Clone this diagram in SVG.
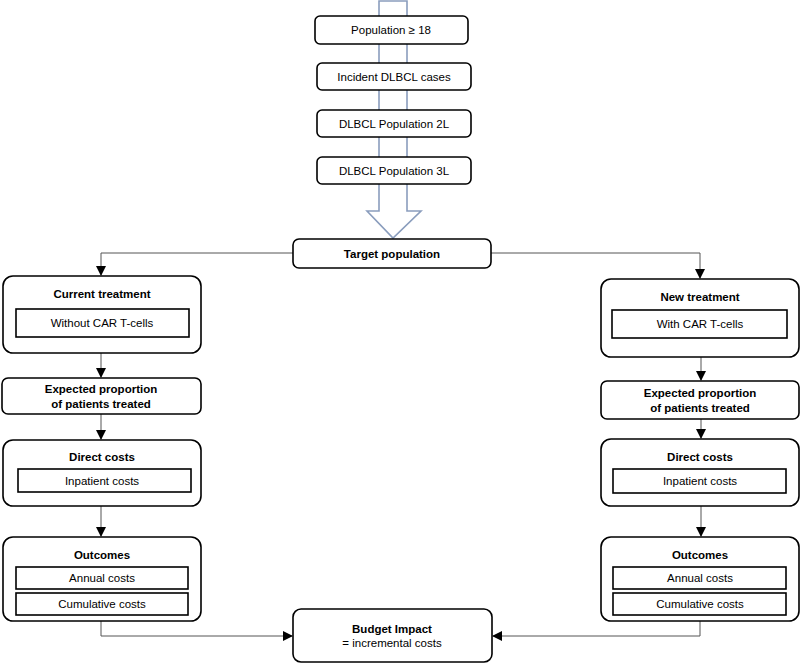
<svg xmlns="http://www.w3.org/2000/svg" width="800" height="664" viewBox="0 0 800 664">
<style>
.box{fill:#fff;stroke:#000;stroke-width:1.6}
.inner{fill:#fff;stroke:#000;stroke-width:1.6}
.t{font-family:"Liberation Sans",Arial,sans-serif;font-size:11.5px;fill:#000;text-anchor:middle}
.b{font-weight:bold}
.c{fill:none;stroke:#555;stroke-width:1}
</style>
<defs>
<marker id="ah" markerWidth="10" markerHeight="10" refX="9" refY="5" orient="auto" markerUnits="userSpaceOnUse">
<path d="M0,0 L10,5 L0,10 Z" fill="#000"/>
</marker>
</defs>
<rect width="800" height="664" fill="#fff"/>
<g id="bigarrow">
<path d="M379,1 L379,211 L367,211 L393,238 L421,211 L407,211 L407,1 Z" fill="#fff" stroke="#8a9dbd" stroke-width="1.6" stroke-linejoin="miter"/>
</g>
<g id="connectors">
<path class="c" d="M293,253 H101 V275" marker-end="url(#ah)"/>
<path class="c" d="M491,253 H700 V278" marker-end="url(#ah)"/>
<path class="c" d="M101,353 V377" marker-end="url(#ah)"/>
<path class="c" d="M701,357 V380" marker-end="url(#ah)"/>
<path class="c" d="M101,414 V439" marker-end="url(#ah)"/>
<path class="c" d="M701,419 V438" marker-end="url(#ah)"/>
<path class="c" d="M101,506 V536" marker-end="url(#ah)"/>
<path class="c" d="M701,506 V536" marker-end="url(#ah)"/>
<path class="c" d="M101,621 V636 H292" marker-end="url(#ah)"/>
<path class="c" d="M700,621 V636 H493" marker-end="url(#ah)"/>
</g>
<g id="pop18">
<rect class="box" x="315" y="16" width="153" height="28" rx="5"/>
<text class="t" x="391" y="34">Population ≥ 18</text>
</g>
<g id="incident">
<rect class="box" x="317" y="63" width="154" height="27" rx="5"/>
<text class="t" x="394" y="81">Incident DLBCL cases</text>
</g>
<g id="pop2l">
<rect class="box" x="317" y="110" width="154" height="27" rx="5"/>
<text class="t" x="394" y="128">DLBCL Population 2L</text>
</g>
<g id="pop3l">
<rect class="box" x="317" y="157" width="154" height="27" rx="5"/>
<text class="t" x="394" y="175">DLBCL Population 3L</text>
</g>
<g id="target">
<rect class="box" x="293" y="239" width="198" height="29" rx="6"/>
<text class="t b" x="392" y="258">Target population</text>
</g>
<g id="current">
<rect class="box" x="3" y="276" width="198" height="77" rx="10"/>
<text class="t b" x="102" y="298">Current treatment</text>
<rect class="inner" x="16" y="309" width="173" height="28"/>
<text class="t" x="102" y="327">Without CAR T-cells</text>
</g>
<g id="new">
<rect class="box" x="601" y="279" width="198" height="78" rx="10"/>
<text class="t b" x="700" y="301">New treatment</text>
<rect class="inner" x="612" y="310" width="175" height="28"/>
<text class="t" x="700" y="328">With CAR T-cells</text>
</g>
<g id="exp-left">
<rect class="box" x="2" y="378" width="199" height="36" rx="6"/>
<text class="t b" x="101" y="393">Expected proportion</text>
<text class="t b" x="101" y="408">of patients treated</text>
</g>
<g id="exp-right">
<rect class="box" x="601" y="381" width="198" height="38" rx="6"/>
<text class="t b" x="700" y="397">Expected proportion</text>
<text class="t b" x="700" y="412">of patients treated</text>
</g>
<g id="direct-left">
<rect class="box" x="3" y="440" width="198" height="66" rx="10"/>
<text class="t b" x="102" y="461">Direct costs</text>
<rect class="inner" x="18" y="469" width="173" height="23"/>
<text class="t" x="102" y="485">Inpatient costs</text>
</g>
<g id="direct-right">
<rect class="box" x="601" y="439" width="198" height="67" rx="10"/>
<text class="t b" x="700" y="461">Direct costs</text>
<rect class="inner" x="613" y="469" width="173" height="24"/>
<text class="t" x="700" y="485">Inpatient costs</text>
</g>
<g id="outcomes-left">
<rect class="box" x="3" y="537" width="198" height="84" rx="10"/>
<text class="t b" x="102" y="559">Outcomes</text>
<rect class="inner" x="16" y="567" width="172" height="22"/>
<text class="t" x="102" y="582">Annual costs</text>
<rect class="inner" x="16" y="593" width="172" height="22"/>
<text class="t" x="102" y="608">Cumulative costs</text>
</g>
<g id="outcomes-right">
<rect class="box" x="601" y="537" width="198" height="84" rx="10"/>
<text class="t b" x="700" y="559">Outcomes</text>
<rect class="inner" x="613" y="567" width="173" height="22"/>
<text class="t" x="700" y="582">Annual costs</text>
<rect class="inner" x="613" y="593" width="173" height="22"/>
<text class="t" x="700" y="608">Cumulative costs</text>
</g>
<g id="budget">
<rect class="box" x="293" y="609" width="199" height="53" rx="8"/>
<text class="t b" x="392" y="633">Budget Impact</text>
<text class="t" x="392" y="647">= incremental costs</text>
</g>
</svg>
